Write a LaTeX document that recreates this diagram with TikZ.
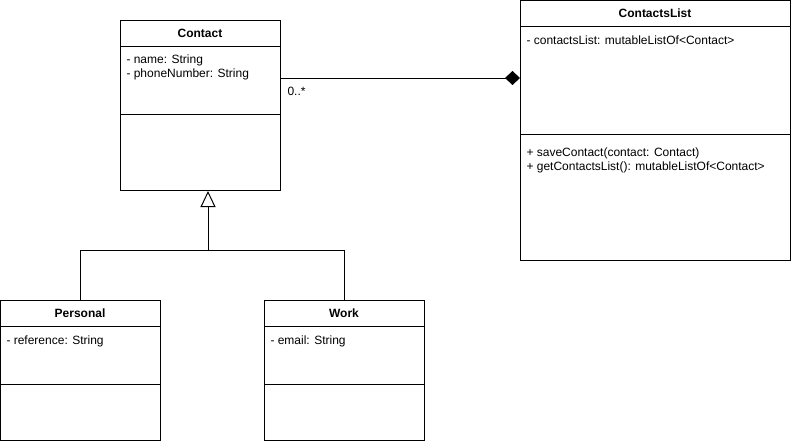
\documentclass[tikz,border=0pt]{standalone}
\usepackage{fontspec}
\setmainfont{Liberation Sans}
\usetikzlibrary{positioning}
\usetikzlibrary{arrows.meta}

\newcommand{\px}{0.75pt}

\begin{document}
\begin{tikzpicture}[x=\px, y=-\px, line width=\px, font=\fontsize{9}{10.5}\selectfont,
		classbox/.style={draw=black, rectangle, inner sep=0pt, anchor=north west},
		classname/.style={font=\fontsize{9}{10.5}\selectfont\bfseries, inner sep=0pt},
		member/.style={anchor=base west, inner sep=0pt}]
			\useasboundingbox (0, 0) rectangle (791, 444);
			% class boxes
			\node[classbox, minimum width=160*\px, minimum height=170*\px] (contact) at (120, 20) {};
			\node[classbox, minimum width=270*\px, minimum height=260*\px] (list) at (520, 0) {};
			\node[classbox, minimum width=160*\px, minimum height=140*\px] (personal) at (0, 300) {};
			\node[classbox, minimum width=160*\px, minimum height=140*\px] (work) at (264, 300) {};
			% compartments
			\draw (contact.west |- 0, 46)--(contact.east |- 0, 46);
			\draw (contact.west |- 0, 114)--(contact.east |- 0, 114);
			\draw (list.west |- 0, 26)--(list.east |- 0, 26);
			\draw (list.west |- 0, 134)--(list.east |- 0, 134);
			\draw (personal.west |- 0, 326)--(personal.east |- 0, 326);
			\draw (personal.west |- 0, 384)--(personal.east |- 0, 384);
			\draw (work.west |- 0, 326)--(work.east |- 0, 326);
			\draw (work.west |- 0, 384)--(work.east |- 0, 384);
			% names and members
			\node[classname] (contactname) at (200, 33) {Contact};
			\node[member] (contactattr1) at (126, 63) {- name: String};
			\node[member] (contactattr2) at (126, 77) {- phoneNumber: String};
			\node[classname] (listname) at (655, 13) {ContactsList};
			\node[member] (listattr) at (526, 44) {- contactsList: mutableListOf<Contact>};
			\node[member] (listop1) at (526, 156) {+ saveContact(contact: Contact)};
			\node[member] (listop2) at (526, 170) {+ getContactsList(): mutableListOf<Contact>};
			\node[classname] (personalname) at (80, 313) {Personal};
			\node[member] (personalattr) at (6, 344) {- reference: String};
			\node[classname] (workname) at (344, 313) {Work};
			\node[member] (workattr) at (270, 344) {- email: String};
			% composition
			\draw[-{Diamond[length=11.25pt, width=10.5pt]}] (contact.east |- 0, 78)--(list.west |- 0, 78);
			\node[member] (mult) at (287, 95) {0..*};
			% generalization
			\coordinate (joint) at (208, 250);
			\draw (personal.north) |- (work.north |- joint)--(work.north);
			\draw[-{Triangle[open, length=12pt, width=11.25pt]}] (joint)--(contact.south -| joint);
		\end{tikzpicture}
\end{document}
